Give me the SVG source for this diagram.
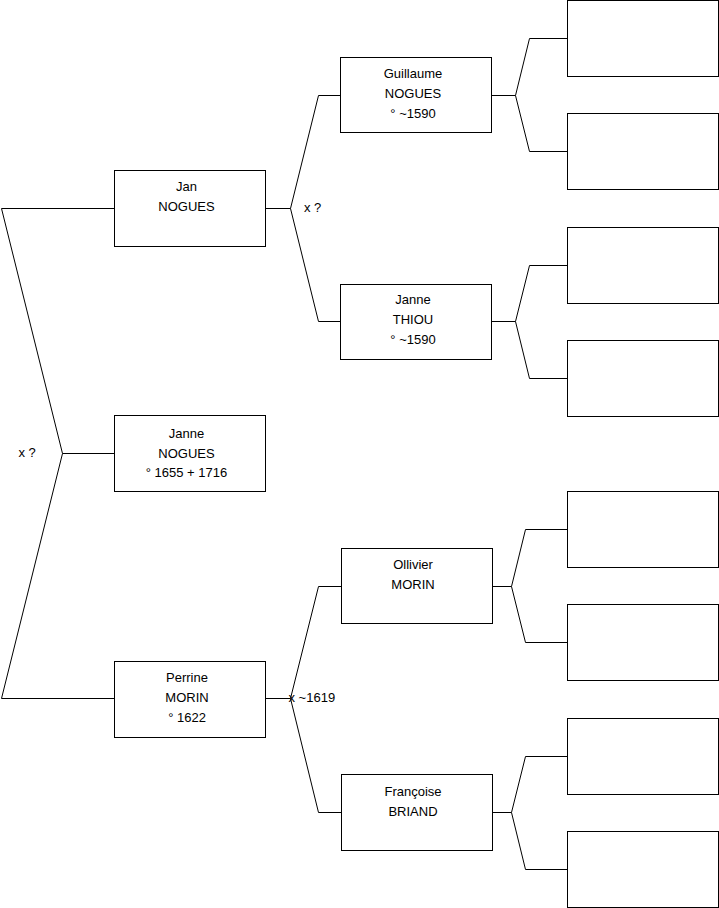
<svg xmlns="http://www.w3.org/2000/svg" width="719" height="908" viewBox="0 0 719 908">
<style>
.box{fill:#fff;stroke:#000;stroke-width:1}
.ln{fill:none;stroke:#000;stroke-width:1}
text{font-family:"Liberation Sans",Arial,sans-serif;font-size:13px;fill:#000}
.c{text-anchor:middle}
</style>
<rect width="719" height="908" fill="#fff"/>
<g id="connectors">
<polyline class="ln" points="114.5,208.5 1.5,208.5 62.5,453.5 1.5,698.5 114.5,698.5"/>
<line class="ln" x1="62.5" y1="453.5" x2="114.5" y2="453.5"/>
<polyline class="ln" points="340.5,95.5 318.5,95.5 290.5,208.5 318.5,321.5 340.5,321.5"/>
<line class="ln" x1="265.5" y1="208.5" x2="290.5" y2="208.5"/>
<polyline class="ln" points="341.5,586.5 318.5,586.5 290.5,698.5 318.5,812.5 341.5,812.5"/>
<line class="ln" x1="265.5" y1="698.5" x2="290.5" y2="698.5"/>
<polyline class="ln" points="567.5,38.5 529.5,38.5 515.5,95.5 529.5,151.5 567.5,151.5"/>
<line class="ln" x1="491.5" y1="95.5" x2="515.5" y2="95.5"/>
<polyline class="ln" points="567.5,265.5 529.5,265.5 515.5,321.5 529.5,378.5 567.5,378.5"/>
<line class="ln" x1="491.5" y1="321.5" x2="515.5" y2="321.5"/>
<polyline class="ln" points="567.5,529.5 525.5,529.5 511.5,586.5 525.5,642.5 567.5,642.5"/>
<line class="ln" x1="492.5" y1="586.5" x2="511.5" y2="586.5"/>
<polyline class="ln" points="567.5,756.5 525.5,756.5 511.5,812.5 525.5,869.5 567.5,869.5"/>
<line class="ln" x1="492.5" y1="812.5" x2="511.5" y2="812.5"/>
</g>
<g id="labels">
<text x="18.5" y="456.5">x ?</text>
<text x="304" y="211.5">x ?</text>
<text x="288.5" y="702">x ~1619</text>
</g>
<g id="jan">
<rect class="box" x="114.5" y="170.5" width="151" height="76"/>
<text class="c" x="186.5" y="190.6">Jan</text>
<text class="c" x="186.5" y="210.6">NOGUES</text>
</g>
<g id="janne-nogues">
<rect class="box" x="114.5" y="415.5" width="151" height="76"/>
<text class="c" x="186.5" y="438">Janne</text>
<text class="c" x="186.5" y="457.7">NOGUES</text>
<text class="c" x="186.5" y="477.4">° 1655 + 1716</text>
</g>
<g id="perrine">
<rect class="box" x="114.5" y="661.5" width="151" height="76"/>
<text class="c" x="187" y="681.6">Perrine</text>
<text class="c" x="187" y="701.6">MORIN</text>
<text class="c" x="187" y="721.6">° 1622</text>
</g>
<g id="guillaume">
<rect class="box" x="340.5" y="57.5" width="151" height="75"/>
<text class="c" x="413" y="77.6">Guillaume</text>
<text class="c" x="413" y="97.6">NOGUES</text>
<text class="c" x="413" y="117.6">° ~1590</text>
</g>
<g id="janne-thiou">
<rect class="box" x="340.5" y="284.5" width="151" height="75"/>
<text class="c" x="413" y="303.6">Janne</text>
<text class="c" x="413" y="323.6">THIOU</text>
<text class="c" x="413" y="343.6">° ~1590</text>
</g>
<g id="ollivier">
<rect class="box" x="341.5" y="548.5" width="151" height="75"/>
<text class="c" x="413" y="568.6">Ollivier</text>
<text class="c" x="413" y="588.6">MORIN</text>
</g>
<g id="francoise">
<rect class="box" x="341.5" y="774.5" width="151" height="76"/>
<text class="c" x="413" y="795.6">Françoise</text>
<text class="c" x="413" y="815.6">BRIAND</text>
</g>
<g id="r1"><rect class="box" x="567.5" y="0.5" width="151" height="76"/></g>
<g id="r2"><rect class="box" x="567.5" y="113.5" width="151" height="76"/></g>
<g id="r3"><rect class="box" x="567.5" y="227.5" width="151" height="76"/></g>
<g id="r4"><rect class="box" x="567.5" y="340.5" width="151" height="76"/></g>
<g id="r5"><rect class="box" x="567.5" y="491.5" width="151" height="76"/></g>
<g id="r6"><rect class="box" x="567.5" y="604.5" width="151" height="76"/></g>
<g id="r7"><rect class="box" x="567.5" y="718.5" width="151" height="76"/></g>
<g id="r8"><rect class="box" x="567.5" y="831.5" width="151" height="76"/></g>
</svg>
